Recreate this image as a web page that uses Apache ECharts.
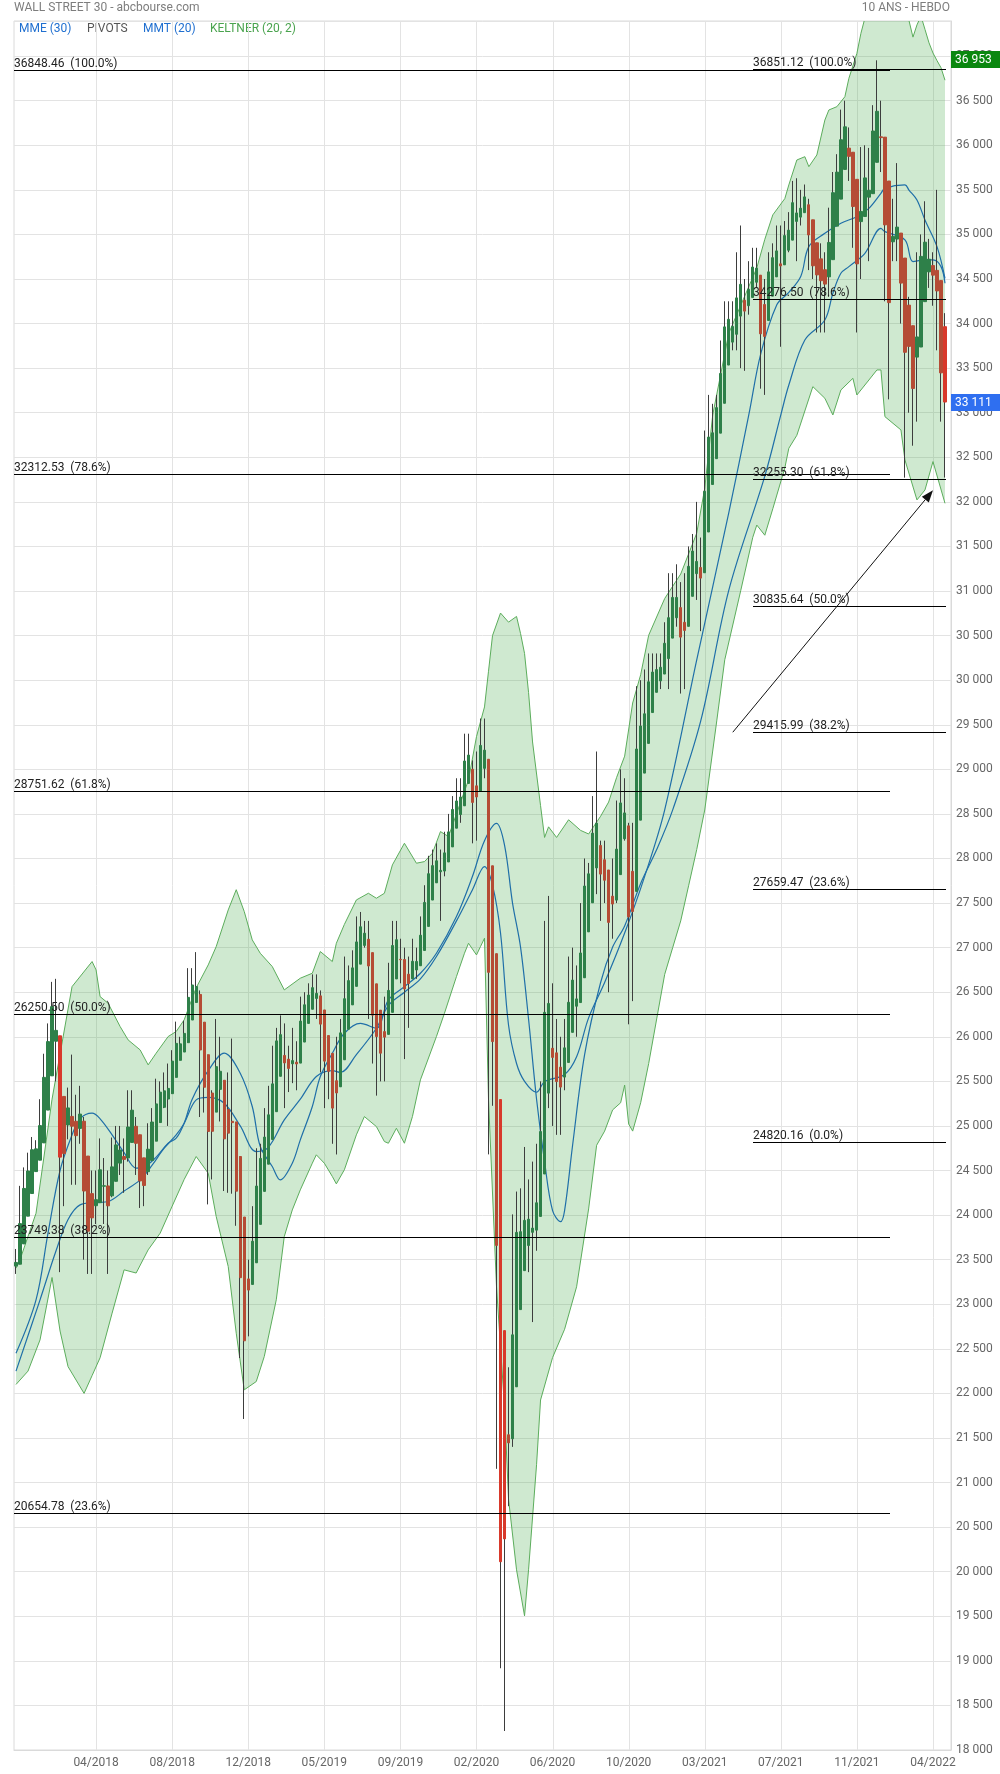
<!DOCTYPE html>
<html><head><meta charset="utf-8">
<script src="https://cdn.jsdelivr.net/npm/echarts@6/dist/echarts.min.js"></script>
<style>html,body{margin:0;padding:0;background:#fff;}#chart{width:1000px;height:1774px;}</style>
</head><body><div id="chart"></div>
<script>
// ---------- DATA ----------
const firstWeek = '2017-11-20';
const weekCount = 234;
const xTickIndex = [20,39,58,77,96,115,134,153,172,191,210,229];
const xTickLabels = ['04/2018','08/2018','12/2018','05/2019','09/2019','02/2020','06/2020','10/2020','03/2021','07/2021','11/2021','04/2022'];

// Weekly Heikin-Ashi candles as drawn in the picture (open, high, low, close)
const haOpen = [23428,23449,23677,23988,24242,24488,24616,24810,25178,25562,
25950,26011,25331,25011,25107,25052,24972,25053,24662,24241,
24105,24139,24324,24327,24216,24379,24583,24657,24641,24815,
24996,24901,24642,24487,24613,24829,25038,25209,25302,25362,
25545,25736,25829,25934,26188,26385,26475,26164,25799,25369,
25155,25410,25512,25184,25052,25045,24657,23978,23284,23222,
23465,23896,24266,24571,24848,25160,25557,25791,25749,25697,
25715,25705,25941,26150,26309,26430,26459,26301,26014,25814,
25507,25439,25742,26085,26358,26566,26815,27025,27094,26944,
26594,26299,26058,26027,26274,26649,26869,26867,26702,26650,
26749,26797,26968,27238,27534,27727,27851,27859,27961,28130,
28340,28493,28591,28842,29001,28815,28753,29011,29113,27918,
26932,25296,22704,21536,21491,22074,22940,23377,23659,23807,
23831,23985,24461,25368,25871,25820,25659,25548,25712,26050,
26343,26384,26662,27177,27503,27894,28146,27986,27871,27577,
27533,27819,28221,28366,27856,27631,28430,28958,29291,29637,
29864,29992,30069,30242,30472,30700,30814,30649,30604,30941,
31195,31264,31205,31662,32195,32485,32771,33106,33535,33792,
33880,34084,34262,34201,34293,34464,34543,34214,34035,34308,
34524,34670,34659,34823,34936,35146,35194,35244,35333,35164,
34906,34726,34604,34524,34717,35093,35396,35729,35968,35922,
35618,35144,35201,35418,35457,35809,36095,36091,35599,34917,
34948,35015,34735,34207,33976,33624,33737,34246,34580,34651,
34597,34482,33965];

const haHigh = [23620,24328,24535,24700,24876,24840,25300,25810,26150,26616,
26650,26011,25331,25430,25800,25350,25450,25100,24662,24500,
24500,24860,24640,24500,24870,25000,25000,24860,25400,25400,
25100,24901,24642,25030,25200,25530,25500,25600,25700,25850,
26170,26000,26180,26770,26770,26950,26520,26164,25799,25400,
26200,26000,25512,25600,25980,25045,24657,23978,23500,24100,
24750,24800,25200,25450,25900,26100,26240,26150,25900,26100,
25950,26450,26500,26600,26700,26700,26520,26301,26014,25814,
26000,26200,26900,26800,26970,27350,27400,27300,27300,26944,
26594,26299,26450,26830,27300,27300,27100,27000,26900,27100,
27000,27350,27700,28030,28100,28170,28100,28300,28500,28700,
28900,28900,29400,29400,29100,29200,29570,29570,29113,27918,
26932,25296,22704,22293,24008,24264,24300,24764,24400,24600,
24800,25500,27300,27580,26600,26200,26000,26200,26900,27000,
26800,27500,28000,27950,28700,29200,28200,28200,27871,28000,
28650,29000,28900,28400,28400,29933,30000,30120,30300,30300,
30300,30300,30650,31200,31200,31300,31100,31200,31500,31640,
32000,31600,32800,33200,33100,33200,33810,34250,34250,34250,
34800,35100,34500,34700,34850,34850,34543,34500,34800,34900,
35100,35100,35150,35250,35600,35630,35500,35560,35400,35164,
34906,34900,34800,35300,35700,35900,36400,36500,36200,35922,
35618,35980,36000,35970,36450,36953,36500,36091,35599,35400,
35800,35015,34735,34300,33976,34800,35000,35372,34950,34800,
35500,34482,34117];

const haLow = [23340,23449,23677,23988,24242,24488,24616,24810,25178,25562,
25500,23360,24100,24850,24340,24340,24800,23500,23340,23340,
23900,24139,23900,23340,24200,24379,24450,24250,24600,24815,
24450,24080,24100,24450,24613,24829,25038,25200,25000,25362,
25545,25736,25829,25934,26188,26385,25100,25150,24120,24400,
25155,25050,24270,24250,24240,23880,22397,21713,22640,23222,
23465,23896,24266,24571,24848,25160,25557,25200,25380,25480,
25400,25705,25941,26150,26309,26200,25600,25200,25300,24800,
24680,25439,25742,26085,26358,26566,26815,27000,26200,25700,
25340,25500,25500,26027,26274,26649,26600,25750,26100,26650,
26650,26797,26968,27238,27534,27727,27300,27800,27961,28130,
28340,28400,28591,28842,28170,28200,28753,28900,24681,25226,
21154,18917,18213,20735,21400,22074,22940,23377,23360,22800,
23600,23985,24461,25200,25000,24900,24900,25400,25712,26050,
26000,26384,26662,27177,27503,27600,27300,27500,26500,27100,
27500,27819,28200,26140,26400,27631,28430,28958,29291,29637,
29864,29900,30069,29900,30472,30600,29850,29900,30604,30941,
30900,30550,31205,31662,32195,32485,32771,33106,33535,33700,
33700,33500,33470,34100,34293,34400,33270,33200,34035,34308,
34524,33740,34659,34800,34936,34700,35100,35244,34600,34500,
33900,33900,33900,34300,34717,35093,35396,35729,35600,34850,
33900,34500,35200,34700,35457,35809,35700,34250,33150,34700,
34700,34000,32272,33000,32630,32900,33737,34246,34400,34200,
33700,32900,32273];

const haClose = [23469,23904,24299,24495,24733,24743,25004,25545,25946,26338,
26072,24650,24690,25202,24997,24891,25133,24270,23819,23969,
24173,24508,24329,24104,24541,24787,24730,24625,24988,25177,
24805,24383,24332,24739,25044,25247,25379,25394,25421,25727,
25926,25921,26038,26442,26581,26564,25852,25434,24938,24940,
25665,25613,24855,24919,25037,24268,23298,22590,23159,23707,
24326,24636,24875,25125,25472,25954,26024,25707,25645,25733,
25695,26176,26359,26468,26551,26487,26142,25727,25613,25200,
25370,26044,26427,26630,26773,27064,27234,27162,26794,26243,
26003,25816,25996,26520,27024,27089,26864,26536,26598,26847,
26845,27139,27507,27829,27920,27974,27867,28063,28298,28550,
28645,28689,29093,29160,28629,28690,29268,29215,26723,25946,
23660,20112,20368,21445,22657,23806,23814,23941,23954,23854,
24138,24937,26274,26374,25769,25497,25436,25876,26387,26636,
26425,26940,27691,27828,28284,28397,27825,27756,27283,27489,
28105,28623,28511,27345,27406,29228,29486,29623,29982,30091,
30119,30145,30414,30701,30928,30928,30483,30558,31277,31448,
31332,31145,32119,32727,32775,33057,33441,33963,34048,33967,
34288,34440,34140,34384,34634,34622,33885,33856,34580,34739,
34815,34647,34987,35048,35356,35241,35294,35421,34994,34648,
34546,34481,34443,34910,35468,35699,36062,36207,35876,35313,
34670,35258,35634,35496,36160,36381,36086,35107,34235,34979,
35082,34454,33678,33744,33272,33850,34754,34913,34722,34543,
34366,33447,33120];

const brightRed = [11,121,122,232];

// Keltner (20,2) bands: [week index, value]
const upperBand = [[0,23404],[1,23500],[5,24021],[9,25300],[14,26563],[19,26844],[20,26750],[21,26451],[23,26376],[26,26115],[28,25965],[31,25853],[33,25685],[35,25816],[38,26003],[40,26059],[42,26190],[45,26550],[48,26806],[50,27012],[53,27423],[55,27650],[57,27405],[59,27087],[61,26937],[64,26788],[67,26526],[71,26657],[74,26713],[76,26956],[79,26844],[80,27049],[82,27260],[85,27535],[88,27610],[90,27554],[92,27610],[94,27928],[97,28171],[100,27947],[102,27965],[104,28059],[106,28302],[108,28246],[113,28881],[115,29367],[117,29700],[118,30100],[119,30500],[121,30753],[123,30651],[125,30715],[126,30524],[127,30300],[128,29863],[129,29307],[131,28593],[132,28236],[133,28355],[135,28236],[138,28434],[141,28315],[143,28275],[146,28474],[148,28633],[150,28910],[152,29148],[154,29744],[156,30061],[158,30504],[162,30916],[166,31191],[170,31649],[172,32152],[174,32976],[177,33663],[178,33891],[185,34624],[187,34945],[189,35219],[192,35402],[193,35555],[195,35835],[197,35872],[198,35760],[200,35891],[202,36283],[203,36396],[205,36433],[207,36545],[208,36751],[210,37031],[211,37255],[213,37600],[216,37900],[219,37900],[222,37600],[223,37400],[224,37213],[225,37350],[226,37450],[227,37300],[228,37150],[229,37035],[230,36950],[231,36870],[232,36730]];
const lowerBand = [[0,22100],[3,22250],[6,22600],[9,23300],[11,22700],[13,22300],[15,22150],[17,22000],[19,22200],[21,22400],[24,22900],[27,23386],[30,23350],[33,23610],[36,23797],[39,24100],[42,24400],[45,24657],[48,24470],[50,23984],[53,23423],[55,22675],[57,22040],[60,22133],[62,22414],[65,23050],[67,23760],[69,24058],[71,24283],[74,24582],[75,24676],[77,24582],[79,24433],[80,24350],[82,24508],[85,24900],[87,25105],[90,24993],[92,24825],[93,24806],[95,24974],[97,24806],[99,25105],[101,25517],[105,26003],[107,26264],[110,26676],[112,26937],[113,27049],[115,26918],[116,27012],[117,27106],[118,25300],[120,23196],[122,21846],[123,20815],[125,20021],[127,19505],[128,20021],[130,21200],[131,21926],[134,22402],[137,22719],[140,23196],[143,24069],[145,24783],[147,24942],[149,25180],[151,25260],[152,25458],[153,25022],[154,24942],[156,25260],[158,25700],[160,26200],[162,26700],[164,27000],[166,27300],[168,27700],[170,28100],[172,28544],[175,29543],[177,30229],[181,31007],[184,31603],[185,31740],[187,31626],[189,31923],[192,32381],[193,32601],[195,32747],[199,33293],[202,33162],[204,32975],[206,33255],[209,33386],[210,33199],[213,33367],[215,33480],[216,33480],[217,32956],[221,32807],[222,32470],[225,32022],[227,32134],[229,32452],[232,31984]];

// Moving averages: [week index, value]
const mme30 = [[0,22250],[6,23049],[10,23600],[13,23950],[16,24115],[20,24140],[23,24152],[27,24270],[31,24395],[34,24560],[37,24750],[40,24900],[42,25031],[45,25292],[48,25320],[52,25255],[56,25000],[60,24713],[63,24760],[67,25068],[71,25300],[75,25554],[79,25620],[81,25600],[85,25800],[90,26096],[93,26350],[97,26500],[101,26650],[105,26900],[110,27300],[114,27650],[117,27909],[119,27700],[121,27164],[123,26132],[125,25700],[127,25500],[130,25378],[132,25497],[137,25577],[140,25775],[143,26212],[147,26609],[152,27164],[157,27800],[162,28545],[170,30229],[178,31877],[183,32976],[186,33663],[190,34212],[193,34349],[196,34532],[198,34863],[202,35012],[206,35125],[210,35199],[213,35293],[216,35461],[217,35517],[222,35555],[223,35498],[225,35386],[227,35162],[230,34863],[232,34508]];
const mmt20 = [[0,22450],[5,23049],[8,23800],[11,24500],[14,24900],[16,25080],[19,25143],[21,25080],[24,24900],[27,24700],[30,24527],[32,24540],[35,24650],[38,24806],[40,24862],[42,25031],[44,25300],[48,25620],[52,25816],[56,25591],[59,25218],[61,24769],[64,24545],[66,24395],[69,24582],[71,24844],[74,25218],[76,25554],[79,25816],[82,26040],[86,26150],[90,26096],[93,26414],[97,26563],[101,26713],[105,26937],[110,27348],[114,27800],[117,28200],[120,28394],[122,28150],[124,27500],[126,27006],[128,26200],[130,25300],[132,24600],[134,24050],[136,23926],[137,24050],[139,24783],[142,25800],[146,26609],[149,27006],[152,27244],[156,27720],[160,28100],[164,28545],[171,29543],[178,31007],[187,32289],[191,32976],[193,33311],[197,33816],[202,34040],[204,34340],[206,34564],[208,34639],[212,34788],[216,35068],[217,35031],[222,34938],[224,34695],[227,34714],[229,34714],[231,34639],[232,34452]];

// Fibonacci retracements
const fib1Levels = [36848.46,32312.53,28751.62,26250.50,23749.38,20654.78];
const fib1Pcts = ['100.0%','78.6%','61.8%','50.0%','38.2%','23.6%'];
const fib2Levels = [36851.12,34276.50,32255.30,30835.64,29415.99,27659.47,24820.16];
const fib2Pcts = ['100.0%','78.6%','61.8%','50.0%','38.2%','23.6%','0.0%'];

const highTag = 36953;
const lastTag = 33111;
const arrowFrom = [179.2, 29416];
const arrowTo = [229, 32130];

// ---------- LAYOUT / STYLE ----------
const FONT = 'Roboto, "Noto Sans", sans-serif';
const FIB1_X = [14, 890];
const FIB2_X = [753, 946];
const GREEN = '#2e8049', RED = '#b54c35', BRIGHT = '#d8392b', WICK = '#3d3d3d';

const cats = [];
const d0 = Date.parse(firstWeek + 'T00:00:00Z');
for (let k = 0; k < weekCount; k++) cats.push(new Date(d0 + k * 7 * 86400000).toISOString().slice(0, 10));

const fmtThousands = v => String(v).replace(/\B(?=(\d{3})+(?!\d))/g, ' ');

const wickData = haOpen.map((o, i) => [o, haClose[i], haLow[i], haHigh[i]]);
const bodyData = haOpen.map((o, i) => {
  const c = haClose[i];
  const it = { value: [o, c, Math.min(o, c), Math.max(o, c)] };
  if (brightRed.includes(i)) it.itemStyle = { color: BRIGHT, color0: BRIGHT, borderColor: BRIGHT, borderColor0: BRIGHT };
  return it;
});

const fibData = [];
fib1Levels.forEach((v, k) => fibData.push([0, v, 0, k]));
fib2Levels.forEach((v, k) => fibData.push([0, v, 1, k]));

const chart = echarts.init(document.getElementById('chart'));
chart.setOption({
  animation: false,
  backgroundColor: '#fff',
  grid: { left: 14, right: 49, top: 21, bottom: 24, show: true, borderColor: '#dadada', borderWidth: 1 },
  xAxis: {
    type: 'category', data: cats, boundaryGap: true,
    axisLine: { show: true, lineStyle: { color: '#dadada' } },
    axisTick: { show: false }, splitLine: { show: false },
    axisLabel: {
      interval: (i) => xTickIndex.includes(i),
      formatter: (v, i) => xTickLabels[xTickIndex.indexOf(i)] || '',
      color: '#666', fontSize: 12, fontFamily: FONT, margin: 7
    }
  },
  yAxis: {
    type: 'value', position: 'right', min: 18000, max: 37394, interval: 500, scale: true,
    axisLine: { show: true, lineStyle: { color: '#dadada' } },
    axisTick: { show: false },
    splitLine: { show: true, lineStyle: { color: '#e3e3e3', width: 1 } },
    axisLabel: { color: '#666', fontSize: 12, fontFamily: FONT, margin: 5, padding: [0, 0, 5, 0], showMaxLabel: false, formatter: fmtThousands }
  },
  graphic: [
    { type: 'text', left: 14, top: 2, style: { text: 'WALL STREET 30 - abcbourse.com', fill: '#7d7d7d', font: '12px ' + FONT } },
    { type: 'text', right: 50, top: 2, style: { text: '10 ANS - HEBDO', fill: '#7d7d7d', font: '12px ' + FONT } },
    { type: 'text', left: 19, top: 23, style: { text: 'MME (30)', fill: '#1f6fd0', font: '12px ' + FONT } },
    { type: 'text', left: 87, top: 23, style: { text: 'PIVOTS', fill: '#555', font: '12px ' + FONT } },
    { type: 'text', left: 143, top: 23, style: { text: 'MMT (20)', fill: '#1f6fd0', font: '12px ' + FONT } },
    { type: 'text', left: 210, top: 23, style: { text: 'KELTNER (20, 2)', fill: '#4aa34e', font: '12px ' + FONT } }
  ],
  series: [
    { // vertical grid lines at date ticks
      type: 'custom', z: 1, silent: true,
      data: xTickIndex.map(i => [i, 20000]),
      renderItem: (params, api) => {
        const cs = params.coordSys;
        const x = Math.round(api.coord([api.value(0), 20000])[0]) + 0.5;
        return { type: 'line', shape: { x1: x, y1: cs.y, x2: x, y2: cs.y + cs.height }, style: { stroke: '#e3e3e3', lineWidth: 1 } };
      }
    },
    { // Keltner band
      type: 'custom', z: 2, silent: true, clip: true,
      data: [[0, 25000]],
      renderItem: (params, api) => {
        const cs = params.coordSys;
        const up = upperBand.map(p => api.coord(p));
        const lo = lowerBand.map(p => api.coord(p));
        return {
          type: 'group',
          clipPath: { type: 'rect', shape: { x: cs.x, y: cs.y, width: cs.width, height: cs.height } },
          children: [
            { type: 'polygon', shape: { points: up.concat(lo.slice().reverse()) }, style: { fill: 'rgba(76,175,80,0.27)' } },
            { type: 'polyline', shape: { points: up }, style: { stroke: '#5cad5c', lineWidth: 1, fill: null } },
            { type: 'polyline', shape: { points: lo }, style: { stroke: '#5cad5c', lineWidth: 1, fill: null } }
          ]
        };
      }
    },
    { type: 'line', name: 'MME (30)', data: mme30, z: 3, smooth: 0.35, symbol: 'none', silent: true, lineStyle: { color: '#1f6fa8', width: 1.2 } },
    { type: 'line', name: 'MMT (20)', data: mmt20, z: 3, smooth: 0.35, symbol: 'none', silent: true, lineStyle: { color: '#1f6fa8', width: 1.2 } },
    { type: 'candlestick', data: wickData, z: 4, silent: true, barWidth: 1,
      itemStyle: { color: WICK, color0: WICK, borderColor: WICK, borderColor0: WICK, borderWidth: 1 } },
    { type: 'candlestick', data: bodyData, z: 5, silent: true, barWidth: 2.8,
      itemStyle: { color: GREEN, color0: RED, borderColor: GREEN, borderColor0: RED, borderWidth: 1 } },
    { // Fibonacci lines + labels
      type: 'custom', z: 6, silent: true,
      data: fibData,
      renderItem: (params, api) => {
        const v = api.value(1), set = api.value(2), k = api.value(3);
        const y = Math.round(api.coord([0, v])[1]) + 0.5;
        const xs = set === 0 ? FIB1_X : FIB2_X;
        const pct = set === 0 ? fib1Pcts[k] : fib2Pcts[k];
        return { type: 'group', children: [
          { type: 'line', shape: { x1: xs[0], y1: y, x2: xs[1], y2: y }, style: { stroke: '#000', lineWidth: 1 } },
          { type: 'text', style: { text: v.toFixed(2) + '  (' + pct + ')', x: xs[0], y: y - 1, fill: '#222', font: '12px ' + FONT, align: 'left', verticalAlign: 'bottom', textAlign: 'left', textVerticalAlign: 'bottom' } }
        ] };
      }
    },
    { // arrow
      type: 'custom', z: 7, silent: true,
      data: [[arrowTo[0], arrowTo[1]]],
      renderItem: (params, api) => {
        const a = api.coord(arrowFrom), b = api.coord(arrowTo);
        const ang = Math.atan2(b[1] - a[1], b[0] - a[0]);
        const L = 12, W = 4.5;
        const bx = b[0] - L * Math.cos(ang), by = b[1] - L * Math.sin(ang);
        const px = -Math.sin(ang) * W, py = Math.cos(ang) * W;
        return { type: 'group', children: [
          { type: 'line', shape: { x1: a[0], y1: a[1], x2: bx, y2: by }, style: { stroke: '#111', lineWidth: 1 } },
          { type: 'polygon', shape: { points: [[b[0], b[1]], [bx + px, by + py], [bx - px, by - py]] }, style: { fill: '#111' } }
        ] };
      }
    },
    { // price tags on the right axis
      type: 'custom', z: 10, silent: true,
      data: [[0, highTag, 0], [0, lastTag, 1]],
      renderItem: (params, api) => {
        const v = api.value(1), kind = api.value(2);
        const y = api.coord([0, v])[1];
        const cs = params.coordSys;
        const x0 = cs.x + cs.width;
        return { type: 'group', children: [
          { type: 'rect', shape: { x: x0, y: Math.round(y) - 9, width: 1000 - x0, height: 17 }, style: { fill: kind === 0 ? '#0a870f' : '#2f6ff0' } },
          { type: 'text', style: { text: fmtThousands(v), x: x0 + 4, y: Math.round(y), fill: '#fff', font: '12px ' + FONT, align: 'left', verticalAlign: 'middle', textAlign: 'left', textVerticalAlign: 'middle' } }
        ] };
      }
    }
  ]
});
</script>
</body></html>
